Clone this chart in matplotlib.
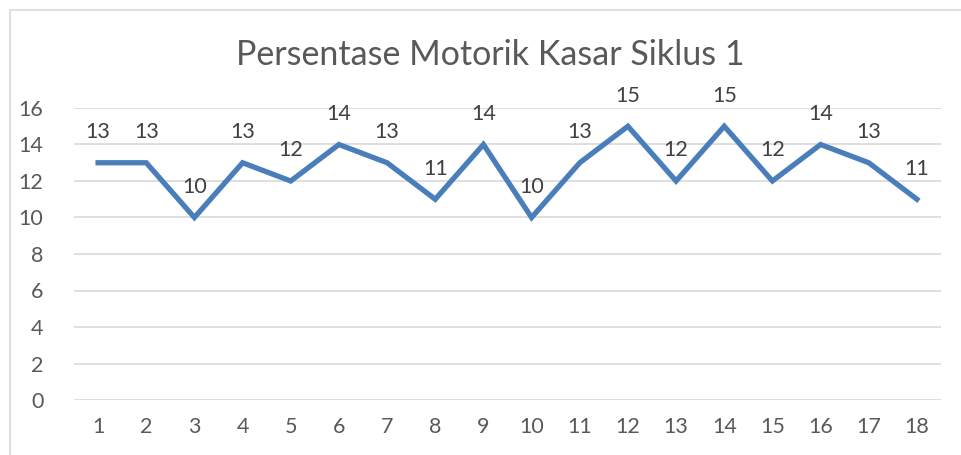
import matplotlib.pyplot as plt
from matplotlib.patches import Rectangle

# data
siklus = list(range(1, 19))
nilai = [13, 13, 10, 13, 12, 14, 13, 11, 14, 10, 13, 15, 12, 15, 12, 14, 13, 11]
y_ticks = [0, 2, 4, 6, 8, 10, 12, 14, 16]

plt.rcParams['font.family'] = ['Lato', 'DejaVu Sans']
TEXT = '#595959'
BLUE = '#4a7ebb'
W, H = 962, 455

fig = plt.figure(figsize=(W / 100, H / 100), dpi=100)

# thin chart border (left and top visible, rest runs off the picture)
fig.patches.append(Rectangle((10 / W, -0.1), 1.2, 1 - 10 / H + 0.1,
                             transform=fig.transFigure, fill=False,
                             edgecolor='#d9d9d9', lw=1.2))

ax = fig.add_axes([74 / W, 1 - 400 / H, (941 - 74) / W, (400 - 108) / H])
ax.plot(siklus, nilai, color=BLUE, lw=3.8, solid_joinstyle='miter', zorder=3)

for x, v in zip(siklus, nilai):
    ax.annotate(str(v), (x, v), xytext=(0, 22), textcoords='offset points',
                ha='center', va='center', fontsize=15.5, color='#404040')

ax.set_xlim(0.5, 18.5)
ax.set_ylim(0, 16)
ax.set_xticks(siklus)
ax.set_yticks(y_ticks)
ax.tick_params(length=0, labelsize=15.5, labelcolor=TEXT, pad=12)
ax.tick_params(axis='y', pad=22)
ax.grid(axis='y', color='#d9d9d9', lw=1.2)
ax.set_axisbelow(True)
for s in ax.spines.values():
    s.set_visible(False)

fig.text(490 / W, 1 - 55 / H, 'Persentase Motorik Kasar Siklus 1',
         ha='center', va='center', fontsize=24.5, color=TEXT)

fig.savefig('out.png', dpi=100)
